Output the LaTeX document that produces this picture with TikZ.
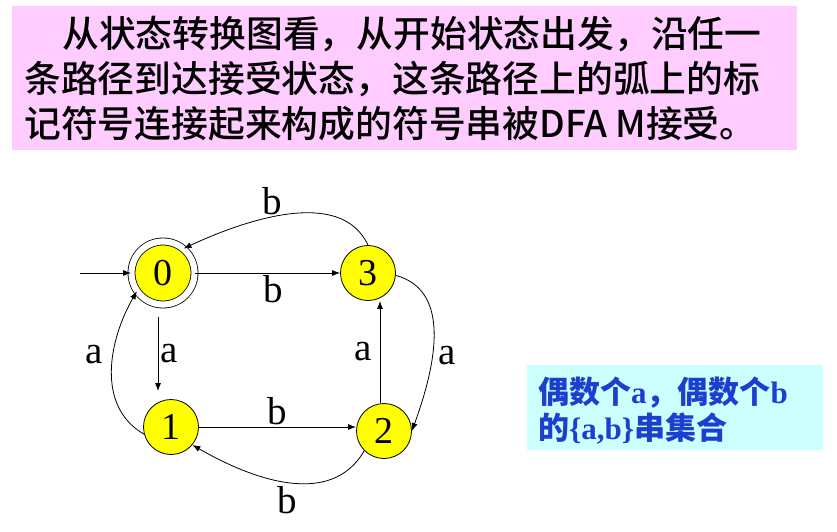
\documentclass[tikz,border=0pt]{standalone}
\usepackage{fontspec}
\setmainfont{Liberation Serif}
\newfontfamily\cjk{Noto Sans CJK SC Medium}
\newfontfamily\cjkbf{Noto Sans CJK SC Bold}
\usetikzlibrary{arrows.meta}
\definecolor{pinkbg}{HTML}{FFCCFF}
\definecolor{cyanbg}{HTML}{CCFFFF}
\definecolor{yel}{HTML}{FFFF00}
\definecolor{noteblue}{HTML}{1C3FCF}
\tikzset{
  state/.style={circle, draw=black, line width=0.8pt, fill=yel, minimum size=55pt, inner sep=0pt, font=\fontsize{38}{38}\selectfont},
  final/.style={state, double=white, double distance=6.2pt, minimum size=63pt},
  edge/.style={draw=black, line width=0.8pt, -{Latex[length=8pt,width=6pt]}},
  lab/.style={font=\fontsize{39}{39}\selectfont, inner sep=2pt},
  ttl/.style={anchor=west, inner sep=0pt, font=\cjk\fontsize{36.8}{40}\selectfont},
  note/.style={anchor=west, inner sep=0pt, text=noteblue, font=\fontsize{31}{34}\selectfont\bfseries},
}
\begin{document}
\begin{tikzpicture}[x=1pt,y=1pt]
  \useasboundingbox (0,0) rectangle (837,531);
  \fill[pinkbg] (12,381) rectangle (797,525);
  \fill[cyanbg] (527,81) rectangle (823,166);
  \node[ttl] (t1) at (62,497) {从状态转换图看，从开始状态出发，沿任一};
  \node[ttl] (t2) at (24,452) {条路径到达接受状态，这条路径上的弧上的标};
  \node[ttl] (t3) at (24,407) {记符号连接起来构成的符号串被DFA M接受。};
  \node[note] (n1) at (538,138) {{\cjkbf 偶数个}a{\cjkbf ，偶数个}b};
  \node[note] (n2) at (538,102) {{\cjkbf 的}\{a,b\}{\cjkbf 串集合}};
  \node[final] (q0) at (163,258) {0};
  \foreach \n/\x/\y in {3/368/258,1/171/104,2/384/100}
    \node[state] (q\n) at (\x,\y) {\n};
  \coordinate (start) at (80,258);
  \draw[edge] (start) -- (q0);
  \draw[edge] (q0) -- node[lab,below,pos=0.54] {b} (q3);
  \draw[edge] (q3.north) to[out=115,in=25,looseness=0.9] node[lab,above,pos=0.57] {b} (q0.50);
  \draw[edge] ([xshift=-5pt,yshift=-12pt]q0.south) -- node[lab,right] {a} ([xshift=-13pt,yshift=8pt]q1.north);
  \draw[edge] (q1.195) to[out=150,in=240] node[lab,left=8pt,pos=0.6] {a} (q0.215);
  \draw[edge] (q1.east) -- node[lab,above] {b} (q1.east -| q2.west);
  \draw[edge] (q2.225) to[out=240,in=-30] node[lab,below=2pt] {b} (q1.-40);
  \draw[edge] ([xshift=-4pt]q2.north) -- node[lab,left=6pt] {a} ([xshift=12pt]q3.south);
  \draw[edge] (q3.-5) to[out=-15,in=70] node[lab,right=4pt,pos=0.6] {a} (q2.east);
\end{tikzpicture}
\end{document}
